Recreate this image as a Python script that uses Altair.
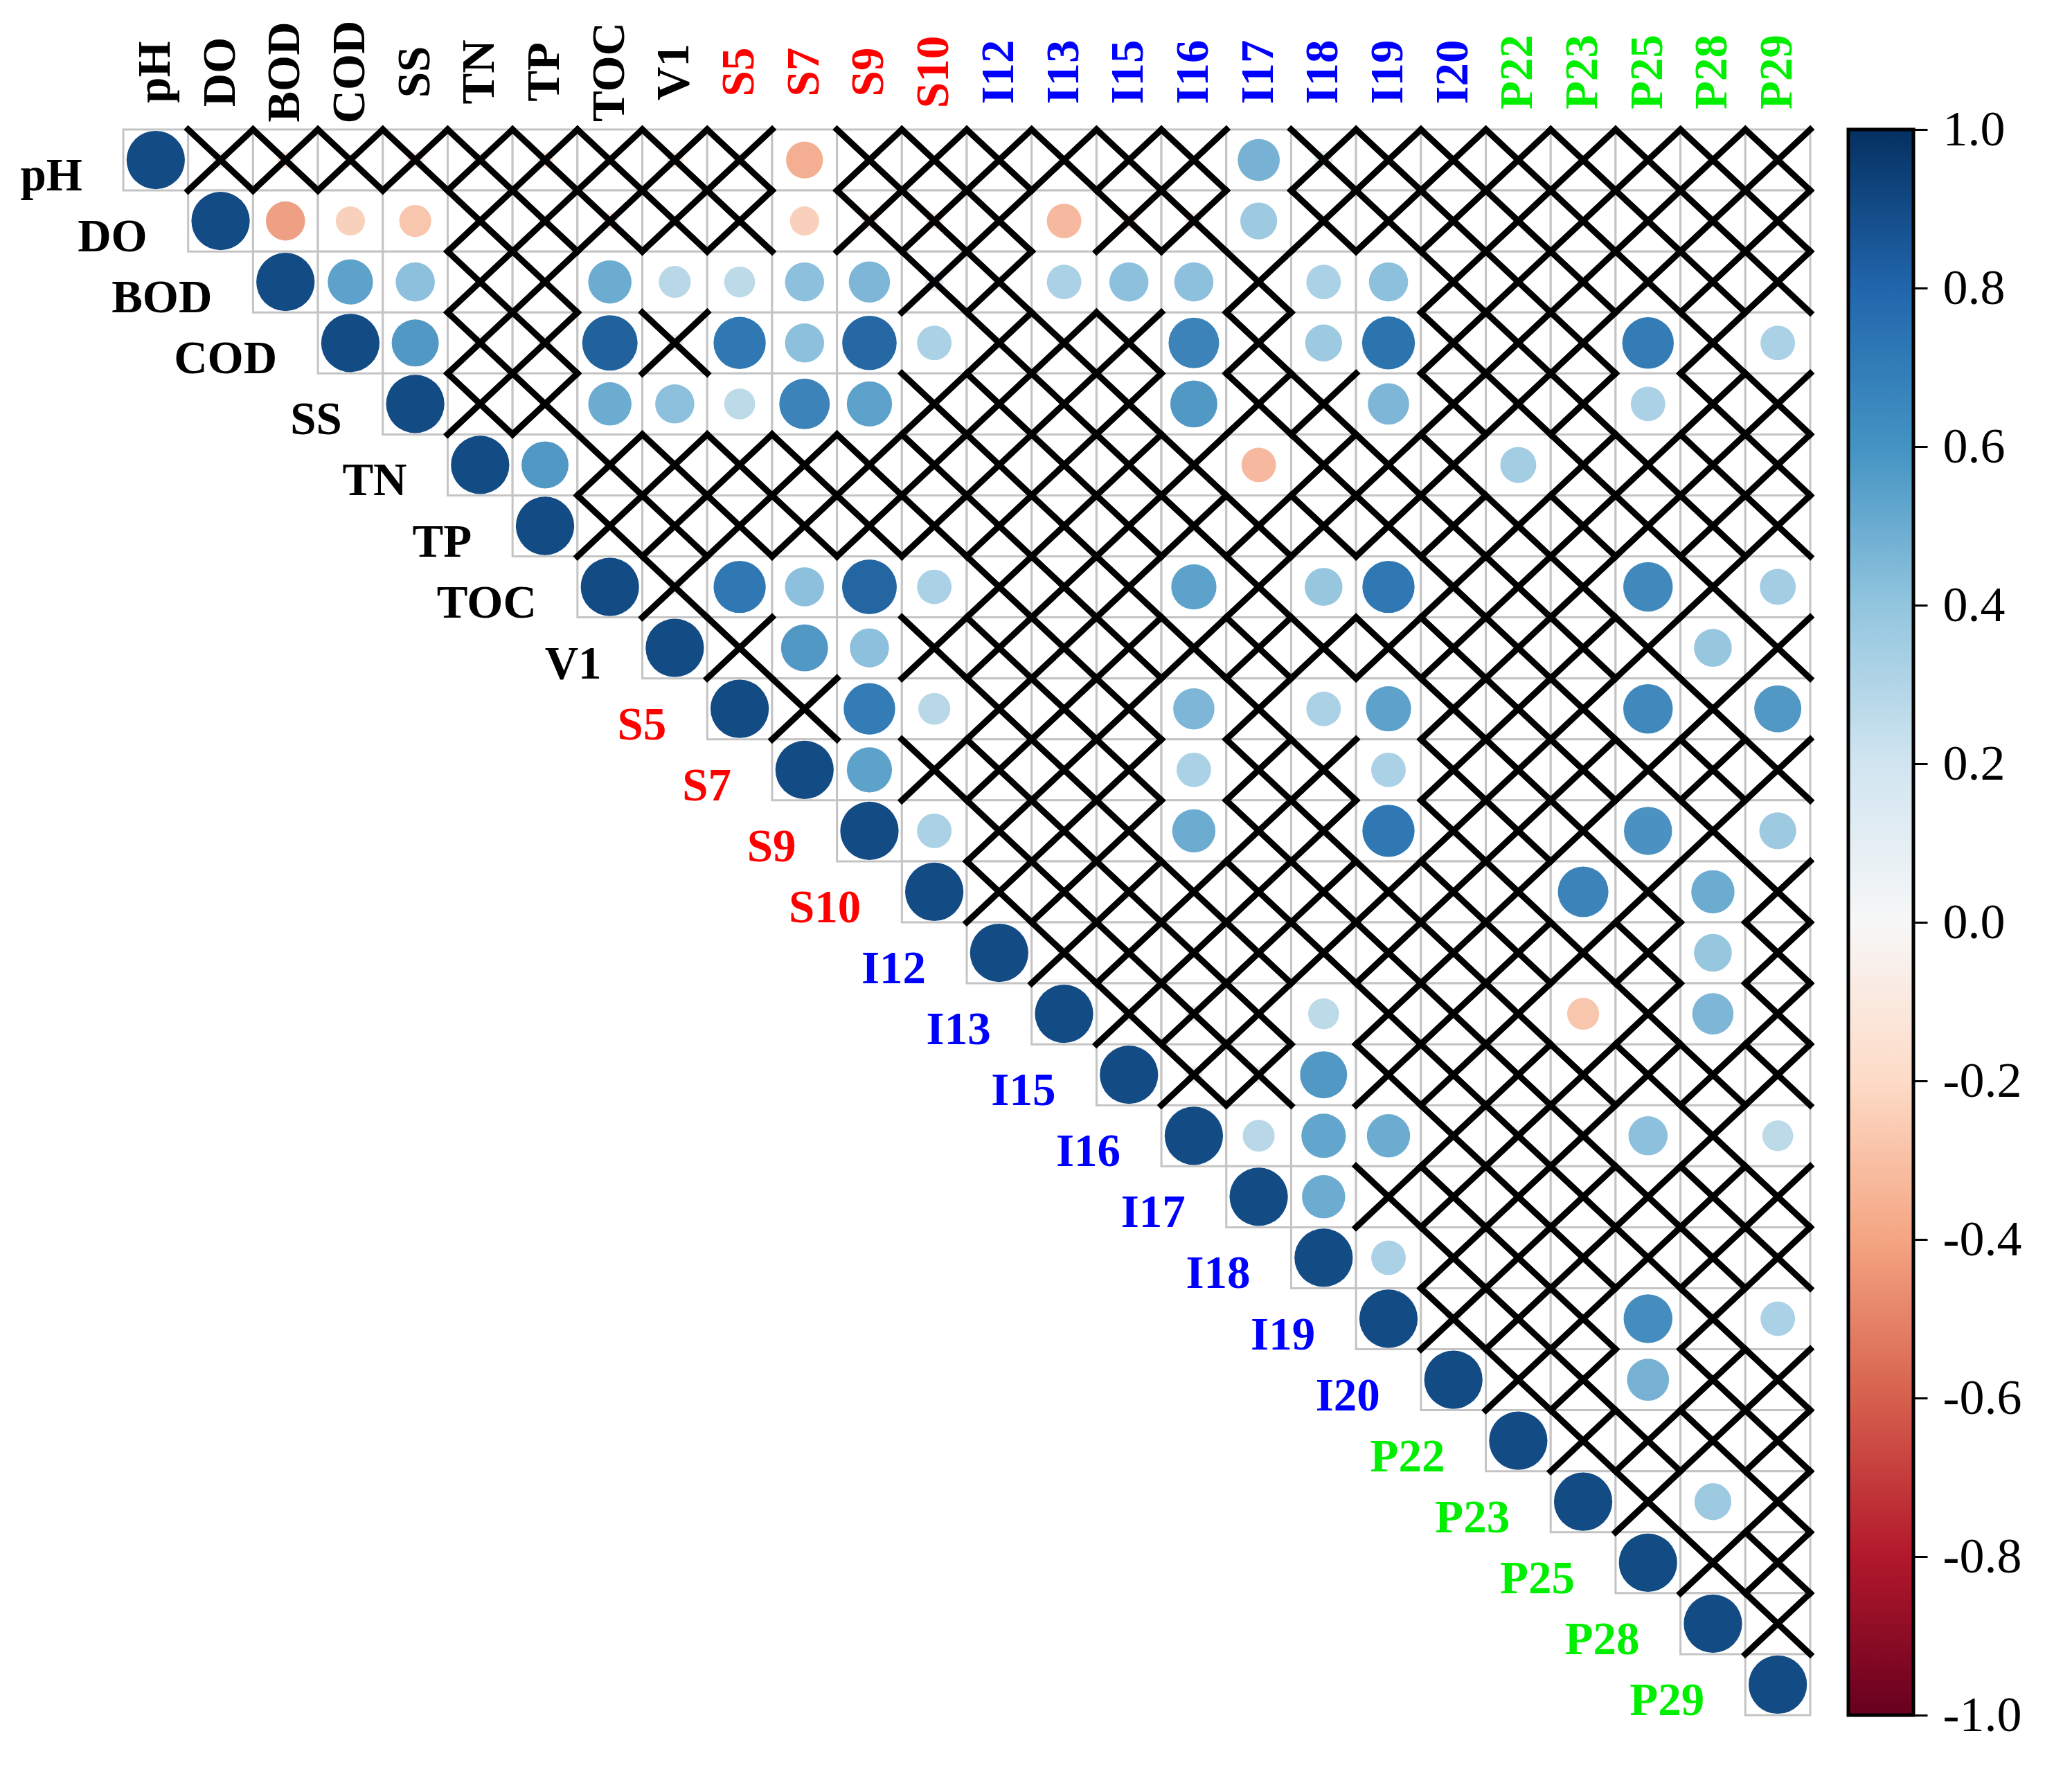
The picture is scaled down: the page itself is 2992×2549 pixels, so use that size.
import altair as alt
import pandas as pd

variables = ["pH", "DO", "BOD", "COD", "SS", "TN", "TP", "TOC", "V1",
             "S5", "S7", "S9", "S10",
             "I12", "I13", "I15", "I16", "I17", "I18", "I19", "I20",
             "P22", "P23", "P25", "P28", "P29"]
groups = ["param"] * 9 + ["S"] * 4 + ["I"] * 8 + ["P"] * 5

# upper-triangle correlation coefficients; each row starts at the diagonal
corr_rows = [
    [1.0, 0.08, -0.08, 0.03, -0.08, -0.07, -0.08, -0.04, -0.08, 0.06, -0.40, 0.03, 0.03, 0.03, 0.03, 0.03, 0.03, 0.52, 0.10, 0.03, 0.03, 0.03, 0.03, 0.03, 0.03, 0.04],
    [1.0, -0.45, -0.25, -0.30, 0.03, -0.06, -0.08, -0.06, 0.03, -0.25, -0.08, -0.08, 0.03, -0.35, -0.08, -0.08, 0.40, 0.06, 0.03, 0.03, 0.03, 0.03, 0.03, -0.06, 0.03],
    [1.0, 0.60, 0.45, 0.03, 0.03, 0.55, 0.30, 0.28, 0.45, 0.50, 0.10, -0.05, 0.35, 0.45, 0.45, 0.03, 0.35, 0.45, 0.03, 0.03, -0.05, 0.06, 0.03, 0.03],
    [1.0, 0.65, 0.07, 0.07, 0.90, 0.08, 0.80, 0.45, 0.87, 0.35, -0.05, 0.06, 0.06, 0.75, 0.03, 0.40, 0.82, 0.08, 0.03, 0.03, 0.78, 0.03, 0.35],
    [1.0, 0.03, 0.03, 0.55, 0.45, 0.28, 0.75, 0.60, 0.03, 0.03, 0.03, 0.06, 0.65, 0.03, 0.06, 0.50, 0.03, 0.06, 0.03, 0.35, 0.03, 0.06],
    [1.0, 0.65, 0.06, 0.03, 0.03, 0.03, 0.03, 0.03, 0.03, 0.03, 0.03, 0.06, -0.35, 0.03, 0.03, 0.03, 0.38, 0.03, 0.03, -0.05, 0.06],
    [1.0, 0.03, 0.03, 0.03, 0.03, 0.03, 0.03, 0.03, 0.03, 0.03, 0.06, -0.05, 0.03, 0.03, 0.03, 0.06, 0.03, 0.03, -0.05, 0.03],
    [1.0, 0.08, 0.80, 0.45, 0.88, 0.35, 0.03, 0.03, 0.05, 0.60, 0.03, 0.42, 0.80, 0.07, 0.03, 0.03, 0.72, 0.03, 0.38],
    [1.0, 0.03, 0.65, 0.45, 0.03, 0.03, 0.07, 0.03, 0.06, 0.03, 0.03, 0.06, 0.03, 0.06, 0.03, 0.03, 0.42, 0.03],
    [1.0, 0.03, 0.78, 0.30, 0.03, 0.03, 0.03, 0.50, 0.03, 0.35, 0.60, 0.06, 0.03, 0.03, 0.72, 0.03, 0.65],
    [1.0, 0.60, 0.03, 0.03, 0.03, 0.03, 0.35, 0.03, 0.03, 0.35, 0.03, 0.03, 0.03, 0.03, 0.03, 0.03],
    [1.0, 0.35, 0.03, 0.03, 0.03, 0.55, 0.03, 0.07, 0.80, 0.06, 0.03, 0.03, 0.68, 0.03, 0.40],
    [1.0, 0.03, 0.03, 0.06, 0.03, 0.03, 0.03, 0.04, 0.03, -0.04, 0.75, 0.06, 0.55, 0.03],
    [1.0, 0.06, -0.05, -0.05, 0.03, 0.03, 0.03, 0.03, 0.03, 0.03, 0.03, 0.42, 0.03],
    [1.0, 0.08, 0.08, 0.03, 0.28, 0.03, 0.03, 0.03, -0.30, 0.03, 0.50, -0.05],
    [1.0, 0.08, 0.08, 0.65, 0.03, 0.03, 0.03, 0.03, 0.03, 0.03, -0.05],
    [1.0, 0.30, 0.58, 0.55, 0.03, 0.06, -0.06, 0.45, 0.03, 0.28],
    [1.0, 0.55, 0.06, 0.03, 0.03, 0.03, 0.03, 0.03, 0.03],
    [1.0, 0.35, 0.03, 0.03, -0.04, 0.07, 0.03, 0.05],
    [1.0, 0.08, 0.03, -0.03, 0.70, -0.07, 0.35],
    [1.0, 0.03, 0.03, 0.52, 0.03, 0.03],
    [1.0, 0.03, 0.03, 0.03, 0.03],
    [1.0, 0.03, 0.40, 0.03],
    [1.0, 0.03, 0.05],
    [1.0, 0.03],
    [1.0],
]

# significant pairs (no cross); all other off-diagonal cells are crossed out
significant = {
    "pH": ["S7", "I17"],
    "DO": ["BOD", "COD", "SS", "S7", "I13", "I17"],
    "BOD": ["COD", "SS", "TOC", "V1", "S5", "S7", "S9", "I13", "I15", "I16", "I18", "I19"],
    "COD": ["SS", "TOC", "S5", "S7", "S9", "S10", "I16", "I18", "I19", "P25", "P29"],
    "SS": ["TOC", "V1", "S5", "S7", "S9", "I16", "I19", "P25"],
    "TN": ["TP", "I17", "P22"],
    "TP": [],
    "TOC": ["S5", "S7", "S9", "S10", "I16", "I18", "I19", "P25", "P29"],
    "V1": ["S7", "S9", "P28"],
    "S5": ["S9", "S10", "I16", "I18", "I19", "P25", "P29"],
    "S7": ["S9", "I16", "I19"],
    "S9": ["S10", "I16", "I19", "P25", "P29"],
    "S10": ["P23", "P28"],
    "I12": ["P28"],
    "I13": ["I18", "P23", "P28"],
    "I15": ["I18"],
    "I16": ["I17", "I18", "I19", "P25", "P29"],
    "I17": ["I18"],
    "I18": ["I19"],
    "I19": ["P25", "P29"],
    "I20": ["P25"],
    "P22": [],
    "P23": ["P28"],
    "P25": [],
    "P28": [],
    "P29": [],
}

cbar_ticks = [-1.0, -0.8, -0.6, -0.4, -0.2, 0.0, 0.2, 0.4, 0.6, 0.8, 1.0]

# ---------------- build tables ----------------
cells = []
for i, row in enumerate(corr_rows):
    for k, r in enumerate(row):
        j = i + k
        cells.append({
            "row": variables[i],
            "col": variables[j],
            "r": r,
            "absr": abs(r),
            "sig": (k == 0) or (variables[j] in significant[variables[i]]),
        })
cells_df = pd.DataFrame(cells)
labels_df = pd.DataFrame({"var": variables, "group": groups})

W, H = 2436, 2290
n = len(variables)
cw, ch = W / n, H / n
FONT = "Liberation Serif"

xs = alt.Scale(domain=variables, paddingInner=0, paddingOuter=0)
ys = alt.Scale(domain=variables, paddingInner=0, paddingOuter=0)
X = alt.X("col:N", scale=xs, axis=None)
Y = alt.Y("row:N", scale=ys, axis=None)

base = alt.Chart(cells_df)

grid = base.mark_rect(fill="white", stroke="#c4c4c4", strokeWidth=3).encode(x=X, y=Y)

circles = base.mark_point(filled=True, shape="circle", opacity=1, strokeWidth=0).encode(
    x=X, y=Y,
    color=alt.Color("r:Q", scale=alt.Scale(scheme="redblue", domain=[-1, 1]), legend=None),
    size=alt.Size("absr:Q", scale=alt.Scale(domain=[0, 1], range=[0, 7100], zero=True), legend=None),
)

asp = ch / cw
cross_path = f"M-1,-{asp:.3f}L1,{asp:.3f}M-1,{asp:.3f}L1,-{asp:.3f}"
crosses = base.transform_filter("!datum.sig").mark_point(
    shape=cross_path, size=cw * cw, filled=False, stroke="black",
    strokeWidth=9, opacity=1, strokeCap="square"
).encode(x=X, y=Y)

label_fill = alt.Fill("group:N",
                      scale=alt.Scale(domain=["param", "S", "I", "P"],
                                      range=["black", "#ff0000", "#0000ff", "#00ee00"]),
                      legend=None)

row_labels = alt.Chart(labels_df).mark_text(
    font=FONT, fontWeight="bold", fontSize=67, align="right", baseline="alphabetic",
    dx=-(cw / 2 + 59), dy=ch / 2
).encode(
    x=alt.X("var:N", scale=xs, axis=None),
    y=alt.Y("var:N", scale=ys, axis=None),
    text="var:N",
    fill=label_fill,
)

top_labels = alt.Chart(labels_df).mark_text(
    font=FONT, fontWeight="bold", fontSize=67, align="center", baseline="middle", angle=270
).encode(
    x=alt.X("var:N", scale=xs, axis=None),
    y=alt.value(-83),
    text="var:N",
    fill=label_fill,
)

main = alt.layer(grid, circles, crosses, row_labels, top_labels).properties(width=W, height=H)

# ---------------- colour bar ----------------
rdbu = ["#67001f", "#b2182b", "#d6604d", "#f4a582", "#fddbc7", "#f7f7f7",
        "#d1e5f0", "#92c5de", "#4393c3", "#2166ac", "#053061"]
stops = [alt.GradientStop(offset=k / (len(rdbu) - 1), color=c) for k, c in enumerate(rdbu)]
grad = alt.Gradient(gradient="linear", stops=stops, x1=0, x2=0, y1=1, y2=0)

cb_df = pd.DataFrame({"lo": [min(cbar_ticks)], "hi": [max(cbar_ticks)]})
cbar = alt.Chart(cb_df).mark_rect(fill=grad, stroke="black", strokeWidth=5).encode(
    y=alt.Y("lo:Q", scale=alt.Scale(domain=[min(cbar_ticks), max(cbar_ticks)], nice=False, zero=False),
            axis=alt.Axis(orient="right", values=cbar_ticks, format=".1f", tickSize=20, tickWidth=3,
                          tickColor="black", domain=False, grid=False, labelFont=FONT,
                          labelFontSize=72, labelColor="black", labelPadding=22, title=None,
                          labelFlush=False, labelOverlap=False,
                          labelExpr="replace(datum.label, '\u2212', '-')")),
    y2="hi:Q",
    x=alt.value(0),
    x2=alt.value("width"),
).properties(width=94, height=H)

chart = alt.hconcat(main, cbar, spacing=34).properties(
    padding={"left": 21, "top": 21, "right": 20, "bottom": 20}
).configure_view(stroke=None)

chart.save("out.html", embed_options={"renderer": "svg", "actions": False})
